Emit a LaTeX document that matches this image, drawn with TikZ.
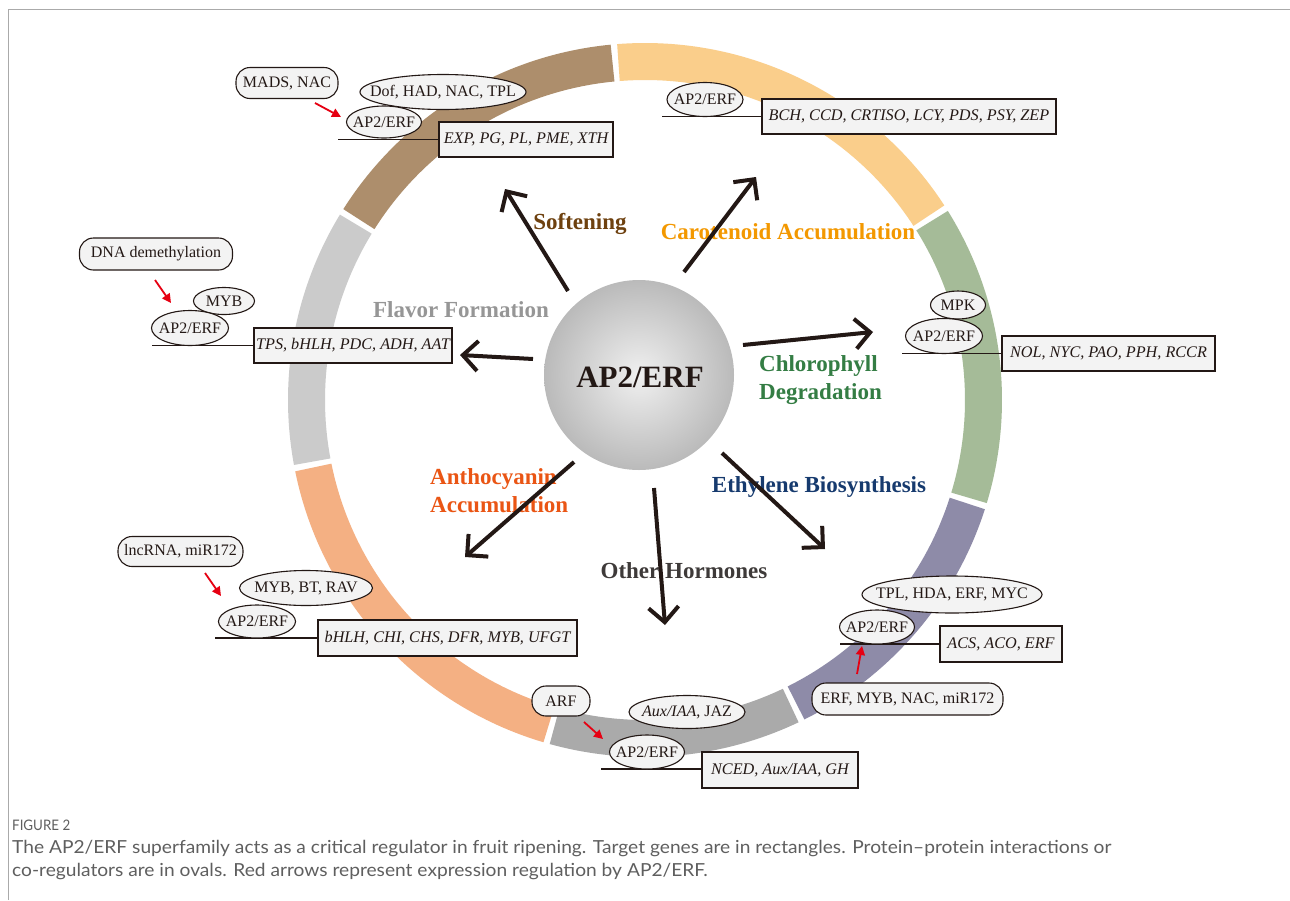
\documentclass[tikz,border=0pt]{standalone}
\usepackage{fontspec}
\setmainfont{Liberation Serif}
\newfontfamily\capfont{Lato}
\usetikzlibrary{arrows.meta,shapes.geometric,calc}
\definecolor{cBrown}{RGB}{173,142,108}
\definecolor{cYellow}{RGB}{250,206,139}
\definecolor{cGreen}{RGB}{165,187,152}
\definecolor{cPurple}{RGB}{142,139,168}
\definecolor{cGrayB}{RGB}{170,170,170}
\definecolor{cOrange}{RGB}{244,176,131}
\definecolor{cGrayL}{RGB}{203,203,203}
\definecolor{cInk}{RGB}{35,24,21}
\definecolor{cSoft}{RGB}{110,65,15}
\definecolor{cCaro}{RGB}{243,152,0}
\definecolor{cFlav}{RGB}{150,150,150}
\definecolor{cChl}{RGB}{52,125,68}
\definecolor{cAntho}{RGB}{234,85,20}
\definecolor{cEthy}{RGB}{22,58,110}
\definecolor{cHorm}{RGB}{62,58,57}
\definecolor{cFill}{RGB}{243,243,243}
\definecolor{cRed}{RGB}{230,0,18}
\definecolor{cCap}{RGB}{95,95,95}
\definecolor{cFrame}{RGB}{170,170,170}
\definecolor{cHubIn}{RGB}{240,240,240}
\definecolor{cHubOut}{RGB}{186,186,186}
\newcommand{\zb}[1]{\makebox[0pt][c]{#1}}
\tikzset{
  txt/.style={font=\fontsize{16}{18}\selectfont, text=cInk},
  oval/.style={txt, ellipse, draw=cInk, line width=1.1pt, fill=cFill, inner sep=0pt},
  pill/.style={txt, rectangle, rounded corners=14pt, draw=cInk, line width=1.1pt, fill=cFill, inner sep=0pt},
  gene/.style={txt, rectangle, draw=cInk, line width=1.1pt, fill=cFill, inner sep=0pt, font=\fontsize{16.2}{18}\selectfont\itshape},
  link/.style={draw=cInk, line width=1.1pt},
  bigarrow/.style={draw=cInk, line width=4pt, -{Straight Barb[length=15pt,width=30pt]}},
  regarrow/.style={draw=cRed, line width=1.8pt, -{Triangle[length=9pt,width=9pt]}},
  lab/.style={font=\fontsize{23}{27}\selectfont\bfseries, inner sep=0pt},
  band/.style={line width=37pt},
  captxt/.style={anchor=base west, inner sep=0pt, text=cCap, font=\capfont\fontsize{18}{20}\selectfont}
}
\begin{document}
\begin{tikzpicture}[x=1pt,y=-1pt]
\useasboundingbox (0,0) rectangle (1290,900);
\fill[white] (0,0) rectangle (1290,900);
\draw[cFrame, line width=1pt] (8,900) -- (8,9) -- (1290,9);

% ring
\coordinate (c) at (645,400);
\def\rr{338.5}
\foreach \a/\b/\col in {-94.5/-33/cYellow, -32/16.8/cGreen, 17.8/63.5/cPurple, 64.5/105.5/cGrayB, 106.5/168.5/cOrange, 169.5/211.3/cGrayL, 212.3/264.5/cBrown}
  \draw[band, \col] ($(c)+(\a:\rr)$) arc[start angle=\a, end angle=\b, radius=\rr];

% hub
\node[circle, minimum size=190pt, inner sep=0pt, inner color=cHubIn, outer color=cHubOut] (hub) at (639,375) {};
\node[font=\fontsize{31}{36}\selectfont\bfseries, text=cInk, anchor=base] (hubtxt) at (640,387) {AP2/ERF};

% labels
\node[lab, text=cSoft, anchor=base] (lsoft) at (580,229) {Softening};
\node[lab, text=cCaro, anchor=base] (lcaro) at (788,239) {Carotenoid Accumulation};
\node[lab, text=cFlav, anchor=base] (lflav) at (461,317) {Flavor Formation};
\node[lab, text=cChl, anchor=base west] (lchl1) at (759,371) {Chlorophyll};
\node[lab, text=cChl, anchor=base west] (lchl2) at (759,399) {Degradation};
\node[lab, text=cAntho, anchor=base west] (lant1) at (430,484) {Anthocyanin};
\node[lab, text=cAntho, anchor=base west] (lant2) at (430,512) {Accumulation};
\node[lab, text=cEthy, anchor=base] (leth) at (819,492) {Ethylene Biosynthesis};
\node[lab, text=cHorm, anchor=base] (lhor) at (684,578) {Other Hormones};

% main arrows
\coordinate (t1) at (568,291); \coordinate (h1) at (505,189);
\coordinate (t2) at (684,272); \coordinate (h2) at (756,177);
\coordinate (t3) at (743,345); \coordinate (h3) at (873,332);
\coordinate (t4) at (533,359); \coordinate (h4) at (460,355);
\coordinate (t5) at (574,462); \coordinate (h5) at (465,557);
\coordinate (t6) at (654,488); \coordinate (h6) at (665,625);
\coordinate (t7) at (722,453); \coordinate (h7) at (825,549);
\foreach \i in {1,...,7} \draw[bigarrow] (t\i) -- (h\i);

% cluster 1: softening
\coordinate (l1) at (338,139.5);
\node[gene, minimum width=174pt, minimum height=35pt] (g1) at (526,139.5) {EXP, PG, PL, PME, XTH};
\draw[link] (l1) -- (g1.west);
\node[pill, minimum width=102pt, minimum height=31pt] (mads) at (287,83) {MADS, NAC};
\node[oval, minimum width=166pt, minimum height=35pt] (dof) at (443,92) {\zb{Dof, HAD, NAC, TPL}};
\node[oval, minimum width=75pt, minimum height=32pt] (ap1) at (384,122) {\zb{AP2/ERF}};
\coordinate (r1s) at (315,103); \coordinate (r1e) at (341,117);
\draw[regarrow] (r1s) -- (r1e);

% cluster 2: carotenoid
\coordinate (l2) at (662,116.5);
\node[gene, minimum width=294pt, minimum height=35pt] (g2) at (909,116.5) {BCH, CCD, CRTISO, LCY, PDS, PSY, ZEP};
\draw[link] (l2) -- (g2.west);
\node[oval, minimum width=76pt, minimum height=34pt] (ap2) at (705,99.5) {\zb{AP2/ERF}};

% cluster 3: flavor
\coordinate (l3) at (152,345.5);
\node[gene, minimum width=198pt, minimum height=35pt] (g3) at (353,345.5) {TPS, bHLH, PDC, ADH, AAT};
\draw[link] (l3) -- (g3.west);
\node[pill, minimum width=153pt, minimum height=32pt] (dna) at (156,254) {DNA demethylation};
\node[oval, minimum width=61pt, minimum height=27pt] (myb3) at (224,301) {\zb{MYB}};
\node[oval, minimum width=77pt, minimum height=35pt] (ap3) at (190,328) {\zb{AP2/ERF}};
\coordinate (r3s) at (155,280); \coordinate (r3e) at (171,303);
\draw[regarrow] (r3s) -- (r3e);

% cluster 4: chlorophyll
\coordinate (l4) at (902,353.5);
\node[gene, minimum width=213pt, minimum height=35pt] (g4) at (1108.5,353.5) {NOL, NYC, PAO, PPH, RCCR};
\draw[link] (l4) -- (g4.west);
\node[oval, minimum width=55pt, minimum height=28pt] (mpk) at (958,305) {\zb{MPK}};
\node[oval, minimum width=77pt, minimum height=35pt] (ap4) at (944,336) {\zb{AP2/ERF}};

% cluster 5: anthocyanin
\coordinate (l5) at (215,638);
\node[gene, minimum width=259pt, minimum height=36pt] (g5) at (447.5,638) {bHLH, CHI, CHS, DFR, MYB, UFGT};
\draw[link] (l5) -- (g5.west);
\node[pill, minimum width=125pt, minimum height=30pt] (lnc) at (180.5,551.5) {lncRNA, miR172};
\node[oval, minimum width=133pt, minimum height=35pt] (myb5) at (306,588) {\zb{MYB, BT, RAV}};
\node[oval, minimum width=77pt, minimum height=33pt] (ap5) at (257,621.5) {\zb{AP2/ERF}};
\coordinate (r5s) at (205,573); \coordinate (r5e) at (221,596);
\draw[regarrow] (r5s) -- (r5e);

% cluster 6: other hormones
\coordinate (l6) at (601,769);
\node[gene, minimum width=156pt, minimum height=36pt] (g6) at (780,770) {NCED, Aux/IAA, GH};
\draw[link] (l6) -- (g6.west |- l6);
\node[pill, minimum width=58pt, minimum height=30pt] (arf) at (561,701) {ARF};
\node[oval, minimum width=116pt, minimum height=33pt] (aux) at (687,712) {\zb{\textit{Aux/IAA}, JAZ}};
\node[oval, minimum width=75pt, minimum height=34pt] (ap6) at (647,752) {\zb{AP2/ERF}};
\coordinate (r6s) at (584,722); \coordinate (r6e) at (603,739);
\draw[regarrow] (r6s) -- (r6e);

% cluster 7: ethylene
\coordinate (l7) at (840,644);
\node[gene, minimum width=122pt, minimum height=36pt] (g7) at (1001,644) {ACS, ACO, ERF};
\draw[link] (l7) -- (g7.west);
\node[oval, minimum width=180pt, minimum height=37pt] (tpl) at (952,594.5) {\zb{TPL, HDA, ERF, MYC}};
\node[oval, minimum width=75pt, minimum height=34pt] (ap7) at (877,627) {\zb{AP2/ERF}};
\node[pill, minimum width=191pt, minimum height=32pt] (erf7) at (907.5,699) {ERF, MYB, NAC, miR172};
\coordinate (r7s) at (857,674); \coordinate (r7e) at (862,646);
\draw[regarrow] (r7s) -- (r7e);

% caption
\node[anchor=base west, inner sep=0pt, text=cCap, font=\capfont\fontsize{14.5}{17}\selectfont] (fig) at (12,830) {\scalebox{0.92}[1]{FIGURE 2}};
\node[captxt] (cap1) at (12,853) {\scalebox{1.065}[1]{The AP2/ERF superfamily acts as a critical regulator in fruit ripening. Target genes are in rectangles. Protein–protein interactions or}};
\node[captxt] (cap2) at (12,876) {\scalebox{1.065}[1]{co-regulators are in ovals. Red arrows represent expression regulation by AP2/ERF.}};
\end{tikzpicture}
\end{document}
